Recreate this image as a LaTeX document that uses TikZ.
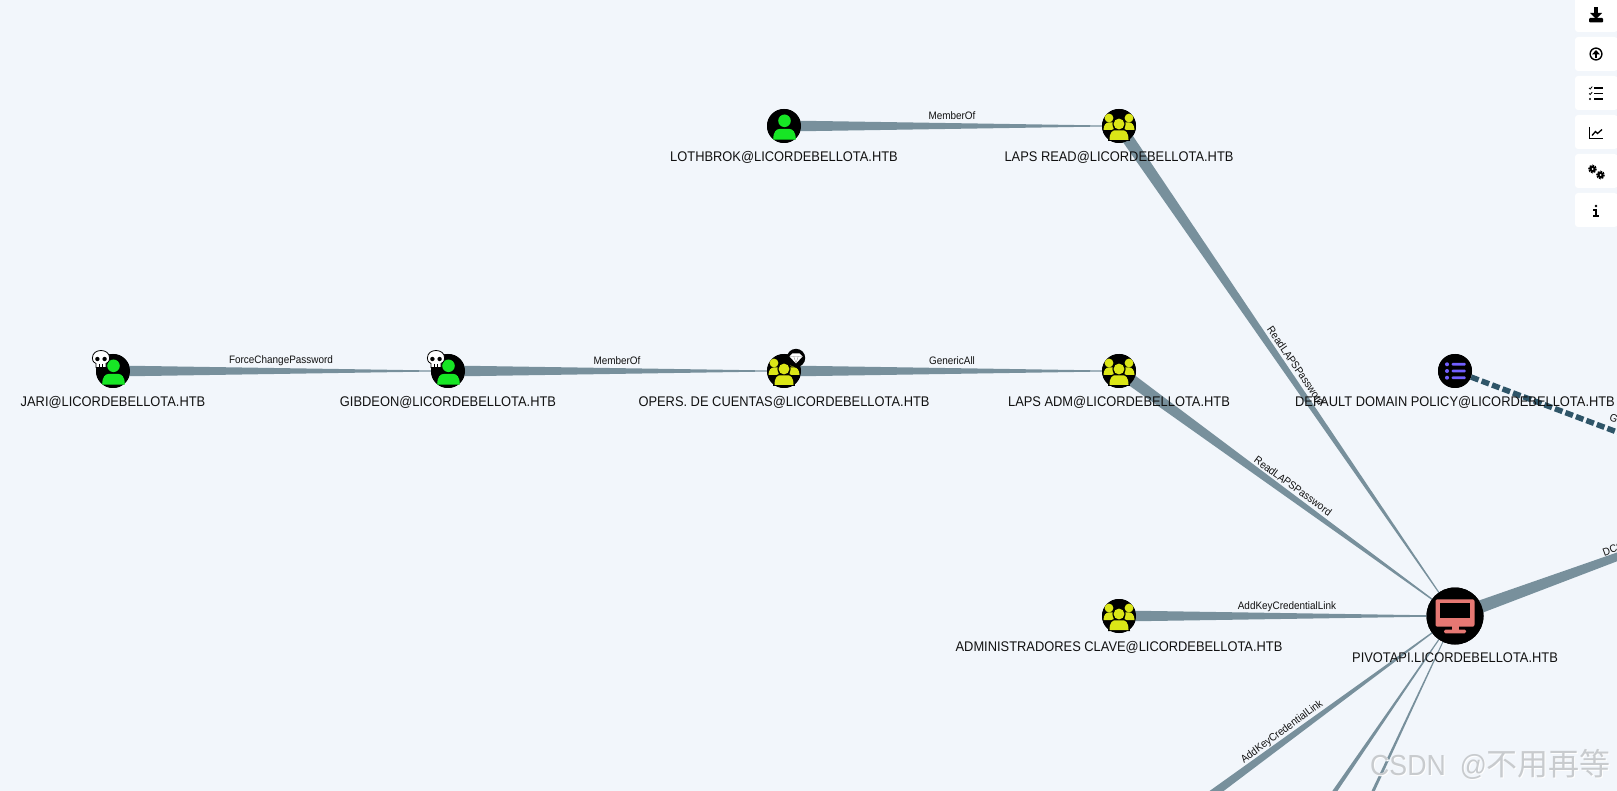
\documentclass[tikz,border=0pt]{standalone}
\usepackage{fontspec}
\setmainfont[FakeStretch=0.92]{Liberation Sans}
\newfontfamily\cjkf{Noto Sans CJK SC}
\usetikzlibrary{calc,shapes.geometric}
\definecolor{bgc}{HTML}{F2F6FB}
\definecolor{edgec}{HTML}{78909C}
\definecolor{dashc}{HTML}{2F5568}
\definecolor{userc}{HTML}{17E625}
\definecolor{groupc}{HTML}{DBE617}
\definecolor{compc}{HTML}{E67873}
\definecolor{gpoc}{HTML}{7260FF}
\definecolor{inkc}{HTML}{111111}
\definecolor{wmc}{HTML}{C8CBCE}
\newcommand{\taper}[3]{\fill[edgec] ($(#1)!#3!90:(#2)$) -- ($(#1)!#3!-90:(#2)$) -- ($(#2)!.3pt!90:(#1)$) -- ($(#2)!.3pt!-90:(#1)$) -- cycle;}
\tikzset{
  x=1pt,y=-1pt,
  ent/.style={circle,fill=black,inner sep=0pt,minimum size=34pt},
  bigent/.style={circle,fill=black,inner sep=0pt,minimum size=57pt},
  nlabel/.style={font=\fontsize{14}{16}\selectfont,text=inkc,inner sep=0pt,anchor=center},
  elabel/.style={font=\fontsize{10.8}{12}\selectfont,text=inkc,inner sep=0pt,anchor=center},
  toolbox/.style={fill=white,rounded corners=3pt},
  pics/usericon/.style={code={
    \fill[userc] (0.5,-5.2) circle[radius=6.3];
    \fill[userc] (-10.8,13.6) .. controls (-10.8,5.5) and (-7.5,3) .. (-4.5,3) -- (5.5,3) .. controls (8.5,3) and (11.8,5.5) .. (11.8,13.6) -- cycle;
  }},
  pics/groupicon/.style={code={
    \fill[groupc] (-10,-8) circle[radius=4.4];
    \fill[groupc] (10,-8) circle[radius=4.4];
    \fill[groupc] (-15.5,4) .. controls (-15.5,-1) and (-13,-3.6) .. (-10,-3.6) -- (-5.5,-3.6) -- (-5.5,4) -- cycle;
    \fill[groupc] (15.5,4) .. controls (15.5,-1) and (13,-3.6) .. (10,-3.6) -- (5.5,-3.6) -- (5.5,4) -- cycle;
    \fill[black] (0,-2) circle[radius=6.6];
    \fill[black] (-11,15) .. controls (-11,5) and (-7,3) .. (-4,3) -- (4,3) .. controls (7,3) and (11,5) .. (11,15) -- cycle;
    \fill[groupc] (0,-2) circle[radius=5.4];
    \fill[groupc] (-9.5,14) .. controls (-9.5,6.5) and (-6.5,4.3) .. (-4,4.3) -- (4,4.3) .. controls (6.5,4.3) and (9.5,6.5) .. (9.5,14) -- cycle;
  }},
  pics/compicon/.style={code={
    \fill[compc,rounded corners=2pt] (-19.5,-16.7) rectangle (19.5,10.7);
    \fill[black] (-15,-12.7) rectangle (15,2.3);
    \fill[compc] (-3.5,10) rectangle (3.5,14);
    \fill[compc,rounded corners=1.5pt] (-11,13.5) rectangle (11,17.3);
  }},
  pics/gpoicon/.style={code={
    \foreach \yy in {-6.7,0,6.7}{
      \fill[gpoc] (-8,\yy) circle[radius=2];
      \fill[gpoc,rounded corners=1pt] (-3.3,\yy-1.4) rectangle (10.7,\yy+1.4);
    }
  }},
  pics/skullicon/.style={code={
    \fill[white,draw=black,line width=.8pt] (-8.6,-1) .. controls (-8.6,-11) and (8.6,-11) .. (8.6,-1)
       .. controls (8.6,3) and (6,4) .. (5,4.5) -- (5,8.5) -- (-5,8.5) -- (-5,4.5) .. controls (-6,4) and (-8.6,3) .. (-8.6,-1) -- cycle;
    \fill[black] (-3.6,0) circle[radius=2.2];
    \fill[black] (3.6,0) circle[radius=2.2];
    \draw[black,line width=.7pt] (-1.7,5) -- (-1.7,8.5) (1.7,5) -- (1.7,8.5);
  }},
  pics/gemicon/.style={code={
    \fill[black] (0,0) circle[radius=9.2];
    \fill[white] (-6.5,-1.5) -- (-3.6,-4.5) -- (3.6,-4.5) -- (6.5,-1.5) -- (0,5.5) -- cycle;
    \draw[gray,line width=.3pt] (-6.2,-1.4) -- (6.2,-1.4) (-2.2,-1.4) -- (0,5) -- (2.2,-1.4);
  }}
}
\begin{document}
\begin{tikzpicture}
\useasboundingbox (0,0) rectangle (1617,791);
\fill[bgc] (0,0) rectangle (1617,791);
\clip (0,0) rectangle (1617,791);

% entity nodes
\node[ent] (jari) at (113,371) {};
\node[ent] (gibdeon) at (448,371) {};
\node[ent] (opers) at (784,371) {};
\node[ent] (lapsadm) at (1119,371) {};
\node[ent] (lothbrok) at (784,126) {};
\node[ent] (lapsread) at (1119,126) {};
\node[ent] (clave) at (1119,616) {};
\node[ent] (gpo) at (1455,371) {};
\node[bigent] (pivot) at (1455,616) {};

% free ends, beyond the frame
\coordinate (offa) at (1105,873);
\coordinate (offb) at (1107,1123);
\coordinate (offc) at (1065,1450);
\coordinate (offd) at (1855,470);
\coordinate (offe) at (1800,501);

% connectors
\taper{jari}{gibdeon}{5.5pt}
\taper{gibdeon}{opers}{5.5pt}
\taper{opers}{lapsadm}{5.5pt}
\taper{lothbrok}{lapsread}{5.5pt}
\taper{lapsread}{pivot}{6pt}
\taper{lapsadm}{pivot}{6pt}
\taper{clave}{pivot}{5.5pt}
\taper{offa}{pivot}{6pt}
\taper{offb}{pivot}{5.5pt}
\taper{offc}{pivot}{6pt}
\taper{pivot}{offd}{6.75pt}
\draw[dashc,line width=5.5pt,dash pattern=on 8pt off 3.2pt] (gpo) -- (offe);

% redraw discs over the connectors
\foreach \n in {jari,gibdeon,opers,lapsadm,lothbrok,lapsread,clave,gpo}
  \fill[black] (\n) circle[radius=17];
\fill[black] (pivot) circle[radius=28.5];

\pic at (jari) {usericon};
\pic at (gibdeon) {usericon};
\pic at (lothbrok) {usericon};
\pic at (opers) {groupicon};
\pic at (lapsadm) {groupicon};
\pic at (lapsread) {groupicon};
\pic at (clave) {groupicon};
\pic at (gpo) {gpoicon};
\pic at (pivot) {compicon};
\pic at ($(jari)+(-12,-12)$) {skullicon};
\pic at ($(gibdeon)+(-12,-12)$) {skullicon};
\pic at ($(opers)+(12,-13)$) {gemicon};

% node labels
\node[nlabel] (tlothbrok) at (784,157.6) {LOTHBROK@LICORDEBELLOTA.HTB};
\node[nlabel] (tlapsread) at (1119,157.6) {LAPS READ@LICORDEBELLOTA.HTB};
\node[nlabel] (tjari) at (113,402.6) {JARI@LICORDEBELLOTA.HTB};
\node[nlabel] (tgibdeon) at (448,402.6) {GIBDEON@LICORDEBELLOTA.HTB};
\node[nlabel] (topers) at (784,402.6) {OPERS. DE CUENTAS@LICORDEBELLOTA.HTB};
\node[nlabel] (tlapsadm) at (1119,402.6) {LAPS ADM@LICORDEBELLOTA.HTB};
\node[nlabel] (tgpo) at (1455,402.6) {DEFAULT DOMAIN POLICY@LICORDEBELLOTA.HTB};
\node[nlabel] (tclave) at (1119,647.6) {ADMINISTRADORES CLAVE@LICORDEBELLOTA.HTB};
\node[nlabel] (tpivot) at (1455,657.6) {PIVOTAPI.LICORDEBELLOTA.HTB};

% edge labels
\node[elabel] (e1) at (281,361) {ForceChangePassword};
\node[elabel] (e2) at (617,361) {MemberOf};
\node[elabel] (e3) at (952,361) {GenericAll};
\node[elabel] (e4) at (952,116) {MemberOf};
\node[elabel,rotate=-55.6] (e5) at (1296,366) {ReadLAPSPassword};
\node[elabel,rotate=-36.1] (e6) at (1293,486) {ReadLAPSPassword};
\node[elabel] (e7) at (1287,607) {AddKeyCredentialLink};
\node[elabel,rotate=36.3] (e8) at (1282,732) {AddKeyCredentialLink};
\node[elabel,rotate=20,anchor=west] (e9) at (1603,553) {DCS};
\node[elabel,rotate=-20,anchor=west] (e10) at (1610,417) {G};

% toolbar
\foreach \ya/\yb in {-5/32,37/71,76/110,115/149,154/188,193/227}
  \fill[toolbox] (1575,\ya) rectangle (1617.5,\yb);
% download
\fill[black] (1594,7) rectangle (1598,15);
\fill[black] (1590,13) -- (1602,13) -- (1596,19) -- cycle;
\fill[black,rounded corners=1pt] (1589,18) rectangle (1603,22.5);
% upload circle
\draw[black,line width=1.4pt] (1596,54) circle[radius=5.9];
\fill[black] (1592,54.5) -- (1596,50) -- (1600,54.5) -- cycle;
\fill[black] (1594.8,54) rectangle (1597.2,58);
% tasks
\foreach \yy in {88,93.5}{
  \draw[black,line width=.8pt] (1589,\yy) -- (1590.2,\yy+1) -- (1592.2,\yy-1.4);
}
\fill[black] (1590,99) circle[radius=1.2];
\foreach \yy in {88,93.5,99}{
  \fill[black] (1594,\yy-.8) rectangle (1602.5,\yy+.8);
}
% chart
\draw[black,line width=1.3pt] (1589.5,127) -- (1589.5,138.5) -- (1602.5,138.5);
\draw[black,line width=1.3pt] (1592,135.5) -- (1595.5,131.5) -- (1597.5,133.5) -- (1602,129.5);
% cogs
\draw[black,line width=1.8pt,dash pattern=on 1.6pt off 1pt] (1592.5,169) circle[radius=3.4];
\fill[black] (1592.5,169) circle[radius=3];
\fill[white] (1592.5,169) circle[radius=1];
\draw[black,line width=1.8pt,dash pattern=on 1.6pt off 1pt] (1600.5,175) circle[radius=3.4];
\fill[black] (1600.5,175) circle[radius=3];
\fill[white] (1600.5,175) circle[radius=1];
% info
\fill[black] (1596,206) circle[radius=1.4];
\fill[black] (1594.6,209.5) rectangle (1597,216);
\fill[black] (1593.3,209.5) rectangle (1597,210.7);
\fill[black] (1593.3,215.3) rectangle (1598.5,217);

% watermark
\node[font=\fontsize{29}{34}\selectfont,text=white,inner sep=0pt,anchor=west] (wms) at (1371,765) {CSDN\hspace{14pt}@{\cjkf\fontsize{31}{34}\selectfont 不用再等}};
\node[font=\fontsize{29}{34}\selectfont,text=wmc,inner sep=0pt,anchor=west] (wm) at (1370,764) {CSDN\hspace{14pt}@{\cjkf\fontsize{31}{34}\selectfont 不用再等}};
\end{tikzpicture}
\end{document}
